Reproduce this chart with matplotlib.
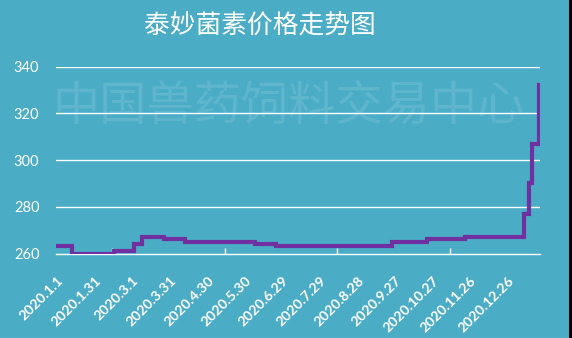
import matplotlib
matplotlib.use('Agg')
import matplotlib.pyplot as plt
import matplotlib.transforms as mtransforms
from matplotlib.patches import Rectangle
import pandas as pd

title = "泰妙菌素价格走势图"
watermark = "中国兽药饲料交易中心"
change_dates = ["2020-01-01", "2020-01-14", "2020-02-16", "2020-03-03", "2020-03-10",
                "2020-03-27", "2020-04-13", "2020-06-08", "2020-06-25", "2020-09-26",
                "2020-10-24", "2020-11-23", "2021-01-09", "2021-01-13", "2021-01-16",
                "2021-01-21"]
prices = [263, 260, 261, 264, 267, 266, 265, 264, 263, 265, 266, 267, 277, 290, 307, 332]
tick_labels = ["2020.1.1", "2020.1.31", "2020.3.1", "2020.3.31", "2020.4.30", "2020.5.30",
               "2020.6.29", "2020.7.29", "2020.8.28", "2020.9.27", "2020.10.27",
               "2020.11.26", "2020.12.26"]
y_ticks = [260, 280, 300, 320, 340]
start_date = "2020-01-01"
end_date = "2021-01-22"

bg = "#4BACC6"
line_color = "#7030A0"

start = pd.Timestamp(start_date)
x_days = [(pd.Timestamp(d) - start).days for d in change_dates]
tick_days = [(pd.Timestamp(t.replace(".", "-")) - start).days for t in tick_labels]
end_day = (pd.Timestamp(end_date) - start).days

fig = plt.figure(figsize=(5.72, 3.38), dpi=100, facecolor=bg)
ax = fig.add_axes([0.0979, 0.25, 0.8462, 0.5527])
ax.set_facecolor(bg)

ax.plot(x_days, prices, drawstyle="steps-post", color=line_color, lw=3.0,
        solid_joinstyle="miter", zorder=3)

ax.set_xlim(0, end_day + 0.2)
ax.set_ylim(260, 340)
ax.set_yticks(y_ticks)
for y in y_ticks[1:]:
    ax.axhline(y, color="white", lw=1.0, zorder=1)

for s in ["top", "right", "left"]:
    ax.spines[s].set_visible(False)
ax.spines["bottom"].set_color("white")
ax.spines["bottom"].set_linewidth(1.0)
ax.spines["bottom"].set_zorder(2)

ax.tick_params(axis="y", length=0, pad=12, labelcolor="white", labelsize=10.5)
for lab in ax.get_yticklabels():
    lab.set_fontfamily("Lato")

ax.set_xticks(tick_days)
ax.set_xticklabels(tick_labels, rotation=45, ha="right", va="top",
                   rotation_mode="anchor", color="white", fontsize=10.2,
                   fontfamily="Lato", fontweight="bold")
ax.tick_params(axis="x", which="major", length=0, pad=6)
ax.set_xticks(list(range(0, end_day, 45)), minor=True)
ax.tick_params(axis="x", which="minor", length=4, direction="in", color="white", width=1)

offset = mtransforms.ScaledTranslation(1.0 / 72, -9.0 / 72, fig.dpi_scale_trans)
for lab in ax.get_xticklabels():
    lab.set_transform(lab.get_transform() + offset)

fig.text(0.455, 0.92, title, ha="center", va="center", color="white", fontsize=18.5,
         fontweight="medium", fontfamily=["Noto Sans CJK SC", "DejaVu Sans"])
fig.text(0.091, 0.686, watermark, ha="left", va="center", color="white", alpha=0.11,
         fontsize=34, fontweight="light",
         fontfamily=["Noto Sans CJK SC", "DejaVu Sans"], zorder=0)

fig.patches.append(Rectangle((569 / 572, 0), 3 / 572, 1, transform=fig.transFigure,
                             facecolor="black", edgecolor="none", zorder=10))

fig.savefig("out.png", dpi=100, facecolor=bg)
